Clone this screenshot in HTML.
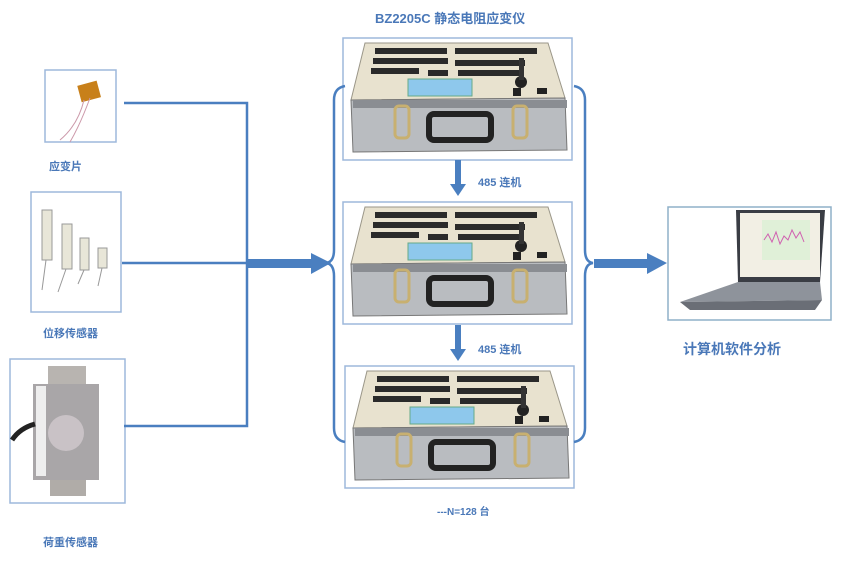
<!DOCTYPE html>
<html><head><meta charset="utf-8"><style>
body{margin:0;background:#fff;width:853px;height:570px;overflow:hidden}
svg{display:block}
text{font-family:"Liberation Sans","Noto Sans CJK SC",sans-serif;font-weight:bold;fill:#4a78b8}
</style></head><body>
<svg width="853" height="570" viewBox="0 0 853 570">
<defs>
<g id="dev">
 <rect x="0" y="0" width="229" height="122" fill="#fff" stroke="#9db8dc" stroke-width="1.5"/>
 <!-- top panel -->
 <polygon points="22,5 205,5 222,60 8,62" fill="#e8e2cf" stroke="#9a9688"/>
 <g fill="#2a2a2a">
  <rect x="32" y="10" width="72" height="6"/><rect x="112" y="10" width="82" height="6"/>
  <rect x="30" y="20" width="75" height="6"/><rect x="112" y="22" width="70" height="6"/>
  <rect x="28" y="30" width="48" height="6"/><rect x="85" y="32" width="20" height="6"/><rect x="115" y="32" width="62" height="6"/>
 </g>
 <rect x="65" y="41" width="64" height="17" fill="#8ec8ec" stroke="#6a8"/>
 <circle cx="178" cy="44" r="6" fill="#222"/><rect x="176" y="20" width="5" height="22" fill="#333"/>
 <rect x="170" y="50" width="8" height="8" fill="#222"/><rect x="194" y="50" width="10" height="6" fill="#222"/>
 <!-- case body -->
 <polygon points="8,62 222,60 224,112 10,114" fill="#b9bcc0" stroke="#777"/>
 <rect x="10" y="62" width="214" height="8" fill="#8a8d92"/>
 <rect x="86" y="76" width="62" height="26" rx="5" fill="none" stroke="#222" stroke-width="6"/>
 <rect x="52" y="68" width="14" height="32" rx="4" fill="none" stroke="#c8b070" stroke-width="3"/>
 <rect x="170" y="68" width="14" height="32" rx="4" fill="none" stroke="#c8b070" stroke-width="3"/>
</g>
</defs>
<text x="375" y="23" font-size="13">BZ2205C 静态电阻应变仪</text>
<use href="#dev" x="343" y="38"/>
<use href="#dev" x="343" y="202"/>
<use href="#dev" x="345" y="366"/>
<!-- braces -->
<path d="M345,86 Q334,88 334,100 L334,250 Q334,262 326,263 Q334,264 334,276 L334,428 Q334,440 345,442" fill="none" stroke="#4a7fc0" stroke-width="2.5"/>
<path d="M574,86 Q585,88 585,100 L585,250 Q585,262 593,263 Q585,264 585,276 L585,428 Q585,440 574,442" fill="none" stroke="#4a7fc0" stroke-width="2.5"/>
<!-- down arrows -->
<rect x="455" y="160" width="6" height="26" fill="#4a7fc0"/><polygon points="450,184 466,184 458,196" fill="#4a7fc0"/>
<rect x="455" y="325" width="6" height="26" fill="#4a7fc0"/><polygon points="450,349 466,349 458,361" fill="#4a7fc0"/>
<text x="478" y="186" font-size="11">485 连机</text>
<text x="478" y="353" font-size="11">485 连机</text>
<text x="437" y="515" font-size="10">---N=128 台</text>
<!-- left sensors -->
<rect x="45" y="70" width="71" height="72" fill="#fff" stroke="#9db8dc" stroke-width="1.5"/>
<rect x="79" y="83" width="20" height="17" fill="#c8801a" transform="rotate(-15 89 91)"/>
<path d="M84,100 Q78,125 60,140 M90,98 Q80,125 70,142" stroke="#c9a" fill="none"/>
<text x="49" y="170" font-size="11">应变片</text>
<rect x="31" y="192" width="90" height="120" fill="#fff" stroke="#9db8dc" stroke-width="1.5"/>
<g fill="#e8e6d8" stroke="#999">
 <rect x="42" y="210" width="10" height="50"/><rect x="62" y="224" width="10" height="45"/>
 <rect x="80" y="238" width="9" height="32"/><rect x="98" y="248" width="9" height="20"/>
</g>
<path d="M46,260 L42,290 M66,269 L58,292 M84,270 L78,284 M102,268 L98,286" stroke="#999"/>
<text x="43" y="337" font-size="11">位移传感器</text>
<rect x="10" y="359" width="115" height="144" fill="#fff" stroke="#9db8dc" stroke-width="1.5"/>
<rect x="48" y="366" width="38" height="18" fill="#b8b4b0"/>
<rect x="33" y="384" width="66" height="96" fill="#a9a6a8"/>
<rect x="36" y="386" width="10" height="90" fill="#eee"/>
<circle cx="66" cy="433" r="18" fill="#c9c2c6"/>
<rect x="50" y="480" width="36" height="16" fill="#b0aca8"/>
<path d="M12,440 Q20,428 35,424" stroke="#222" stroke-width="5" fill="none"/>
<text x="43" y="546" font-size="11">荷重传感器</text>
<!-- connectors -->
<g stroke="#4a7fc0" stroke-width="2.5" fill="none">
 <path d="M124,103 H247 V426 H124 M122,263 H247"/>
</g>
<rect x="247" y="259" width="66" height="9" fill="#4a7fc0"/><polygon points="311,253 311,274 331,263" fill="#4a7fc0"/>
<rect x="594" y="259" width="55" height="9" fill="#4a7fc0"/><polygon points="647,253 647,274 667,263" fill="#4a7fc0"/>
<!-- laptop -->
<rect x="668" y="207" width="163" height="113" fill="#fff" stroke="#8fb0c8" stroke-width="1.5"/>
<polygon points="736,210 825,210 820,282 738,282" fill="#3a3d44"/>
<rect x="740" y="213" width="80" height="64" fill="#f2efe4"/>
<rect x="762" y="220" width="48" height="40" fill="#e0f0d8"/>
<path d="M764,240 l4,-6 4,8 4,-10 4,12 4,-8 4,4 4,-10 4,8 4,-6 4,10" stroke="#d060b0" fill="none"/>
<polygon points="738,282 820,282 822,300 680,302" fill="#8e939b"/>
<polygon points="680,302 822,300 815,310 690,310" fill="#6a6e76"/>
<text x="683" y="354" font-size="14">计算机软件分析</text>
</svg>
</body></html>
